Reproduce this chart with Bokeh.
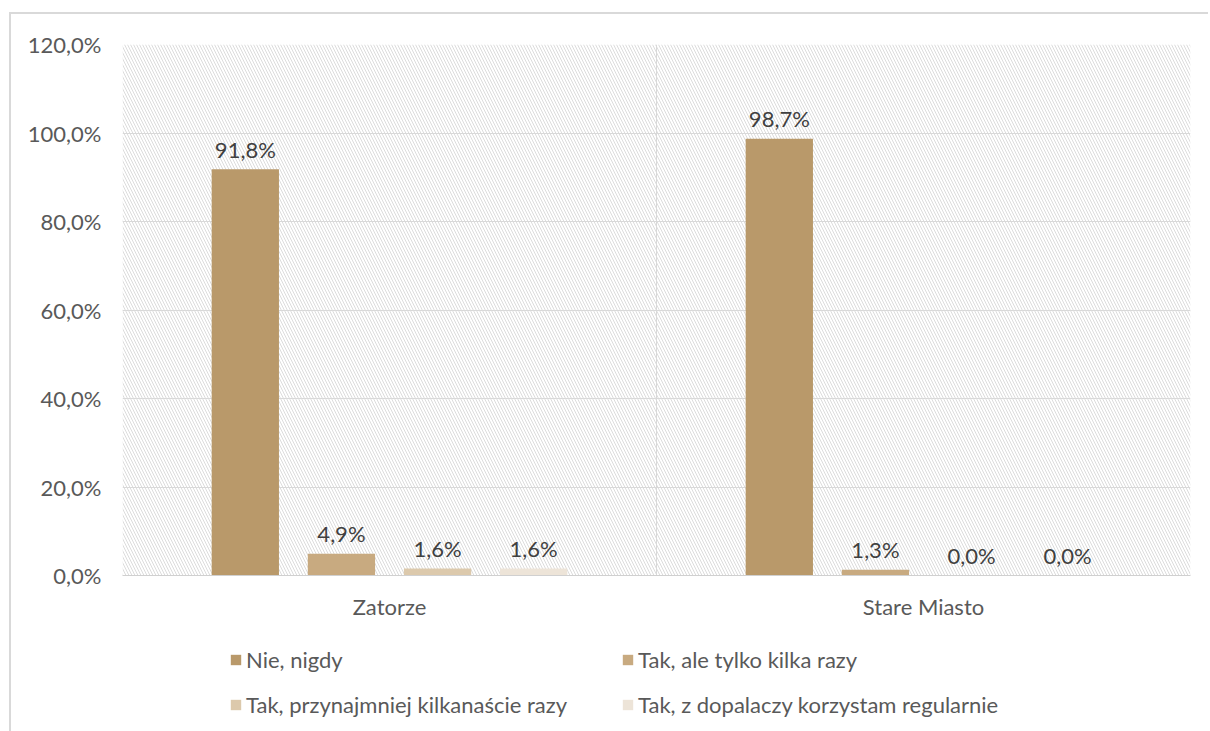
from bokeh.plotting import figure
from bokeh.models import Range1d, FixedTicker, BoxAnnotation, Legend, LegendItem, ColumnDataSource
from bokeh.layouts import column
from bokeh.embed import file_html
from bokeh.resources import INLINE
from bokeh.core.properties import value

categories = ["Zatorze", "Stare Miasto"]
series_names = ["Nie, nigdy", "Tak, ale tylko kilka razy",
                "Tak, przynajmniej kilkanaście razy", "Tak, z dopalaczy korzystam regularnie"]
nie_nigdy = [91.8, 98.7]
kilka_razy = [4.9, 1.3]
kilkanascie_razy = [1.6, 0.0]
regularnie = [1.6, 0.0]
y_ticks = [0, 20, 40, 60, 80, 100, 120]

series_values = [nie_nigdy, kilka_razy, kilkanascie_razy, regularnie]
colors = ["#B9996A", "#C8AA80", "#DCC9AC", "#EDE4D8"]
offsets = [-0.27, -0.09, 0.09, 0.27]
bar_width = 0.126
FONT = "Lato"
FS = "22px"

p = figure(width=1197, height=616, x_range=Range1d(0, 2), y_range=Range1d(0, 120),
           output_backend="svg", toolbar_location=None,
           min_border_left=111, min_border_right=18, min_border_top=30, min_border_bottom=55)
p.outline_line_color = None
p.background_fill_color = "white"
p.border_fill_color = "white"

bg = BoxAnnotation(fill_color="white", fill_alpha=1.0, line_color=None,
                   hatch_pattern="\\", hatch_color="#DCDCDC", hatch_scale=6, hatch_weight=1.0,
                   level="image")
p.add_layout(bg)

# legend figure (its keys point to the same data, kept outside its visible range)
q = figure(width=1197, height=101, x_range=Range1d(100, 101), y_range=Range1d(1000, 1001),
           output_backend="svg", toolbar_location=None, x_axis_type=None, y_axis_type=None,
           min_border_left=0, min_border_right=0, min_border_top=0, min_border_bottom=0)
q.outline_line_color = None
q.xgrid.visible = False
q.ygrid.visible = False
q.border_fill_color = "white"
q.background_fill_color = "white"

keys = {}
for name, vals, col, off in zip(series_names, series_values, colors, offsets):
    src = ColumnDataSource(dict(
        x=[i + 0.5 + off for i in range(len(categories))],
        top=vals,
        label=[f"{v:.1f}".replace(".", ",") + "%" for v in vals],
    ))
    p.vbar(x="x", top="top", width=bar_width, bottom=0, source=src,
           fill_color=col, line_color=None)
    p.text(x="x", y="top", text="label", source=src, text_align="center",
           text_baseline="alphabetic", y_offset=-20, text_font=value(FONT),
           text_font_size=FS, text_color="#404040")
    keys[name] = q.vbar(x="x", top="top", width=bar_width, bottom=0, source=src,
                        fill_color=col, line_color=None)

# row-major order for a 2-column legend (Bokeh fills columns first)
legend_order = [series_names[0], series_names[2], series_names[1], series_names[3]]
items = [LegendItem(label=n, renderers=[keys[n]]) for n in legend_order]

# axes
p.xaxis.ticker = FixedTicker(ticks=[i + 0.5 for i in range(len(categories))])
p.xaxis.major_label_overrides = {i + 0.5: c for i, c in enumerate(categories)}
p.xaxis.axis_line_color = "#D0D0D0"
p.xaxis.major_tick_line_color = None
p.xaxis.minor_tick_line_color = None
p.xaxis.major_tick_out = 0
p.xaxis.major_label_standoff = 17
p.xaxis.major_label_text_font = FONT
p.xaxis.major_label_text_font_size = FS
p.xaxis.major_label_text_color = "#595959"

p.yaxis.ticker = FixedTicker(ticks=y_ticks)
p.yaxis.major_label_overrides = {t: f"{t:.1f}".replace(".", ",") + "%" for t in y_ticks}
p.yaxis.axis_line_color = None
p.yaxis.major_tick_line_color = None
p.yaxis.minor_tick_line_color = None
p.yaxis.major_tick_out = 0
p.yaxis.major_label_standoff = 21
p.yaxis.major_label_text_font = FONT
p.yaxis.major_label_text_font_size = FS
p.yaxis.major_label_text_color = "#595959"

p.ygrid.ticker = FixedTicker(ticks=y_ticks)
p.ygrid.grid_line_color = "#D9D9D9"
p.xgrid.ticker = FixedTicker(ticks=[1, 2])
p.xgrid.grid_line_color = "#D9D9D9"

legend = Legend(items=items, ncols=2, location=(107, 13),
                glyph_width=13, glyph_height=13, label_standoff=4,
                label_text_font=FONT, label_text_font_size=FS, label_text_color="#595959",
                label_width=357, label_height=26, spacing=18, padding=0, margin=0,
                border_line_color=None, background_fill_alpha=0)
q.add_layout(legend)

layout = column(p, q, spacing=0)
layout.styles = {"margin-left": "9px", "margin-top": "12px",
                 "border-left": "2px solid #D9D9D9", "border-top": "2px solid #D9D9D9"}

open("out.html", "w").write(file_html(layout, INLINE))
